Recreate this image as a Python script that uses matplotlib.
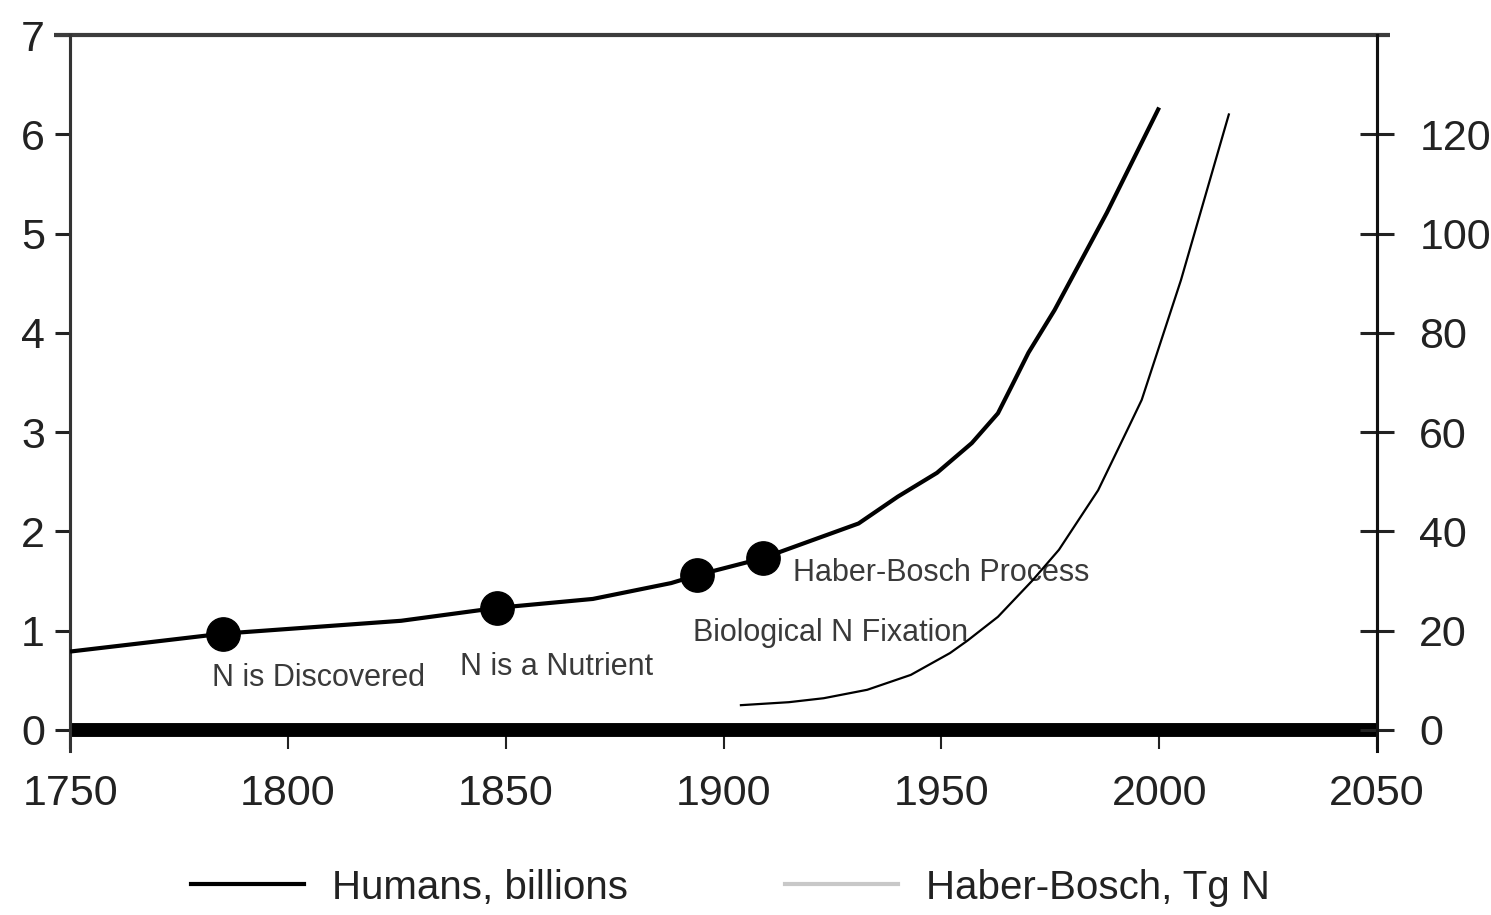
import numpy as np
import matplotlib.pyplot as plt
from matplotlib.lines import Line2D

plt.rcParams['font.family'] = ['Liberation Sans Narrow', 'Liberation Sans', 'DejaVu Sans']

# humans, billions (left axis)
hum_years = [1750, 1785, 1826, 1848, 1870, 1888, 1894, 1909, 1914, 1931, 1940,
             1949, 1957, 1963, 1966, 1970, 1976, 1988, 2000]
hum_vals = [0.79, 0.97, 1.10, 1.23, 1.32, 1.48, 1.56, 1.73, 1.81, 2.08, 2.35,
            2.59, 2.89, 3.19, 3.45, 3.80, 4.23, 5.21, 6.27]

# Haber-Bosch, Tg N (right axis)
hb_years = [1904, 1915, 1923, 1933, 1943, 1952, 1956, 1963, 1971, 1977, 1986,
            1993, 1996, 2005, 2016]
hb_vals = [5.0, 5.6, 6.4, 8.1, 11.1, 15.5, 18.0, 22.8, 30.2, 36.3, 48.3,
           61.0, 66.5, 90.6, 124.0]

# milestones
ev_years = [1785, 1848, 1894, 1909]
ev_vals = [0.97, 1.23, 1.56, 1.73]
ev_labels = ['N is Discovered', 'N is a Nutrient', 'Biological N Fixation',
             'Haber-Bosch Process']
ev_text_x = [1782.5, 1839.5, 1893, 1916]
ev_text_y = [0.52, 0.63, 0.98, 1.58]

fig = plt.figure(figsize=(14.91, 9.15), dpi=100)
ax = fig.add_axes([0.047, 0.2022, 0.8765, 0.7595])
ax2 = ax.twinx()

ax.plot(hum_years, hum_vals, color='black', lw=3, solid_capstyle='butt', zorder=3)
ax.plot(ev_years, ev_vals, 'o', color='black', ms=24, zorder=4)
for t, x, y in zip(ev_labels, ev_text_x, ev_text_y):
    ax.text(x, y, t, fontsize=22, color='#3a3a3a', va='center', ha='left', zorder=5)

ax2.plot(hb_years, hb_vals, color='black', lw=1.6, zorder=3)

ax.set_xlim(1750, 2050)
ax.set_ylim(0, 7)
ax2.set_ylim(0, 140)
ax.set_xticks([1750, 1800, 1850, 1900, 1950, 2000, 2050])
ax.set_yticks(range(0, 8))
ax2.set_yticks(range(0, 140, 20))
ax2.set_yticklabels([str(v) for v in range(0, 140, 20)])

# thick zero line
ax.axhline(0, color='black', lw=10, zorder=2, solid_capstyle='butt', clip_on=False)

for a in (ax, ax2):
    for s in a.spines.values():
        s.set_visible(False)
ax.spines['left'].set_visible(True)
ax.spines['left'].set_linewidth(2.2)
ax.spines['left'].set_color('#333333')
ax2.spines['right'].set_visible(True)
ax2.spines['right'].set_linewidth(2.2)
ax2.spines['right'].set_color('#111111')
# top frame line, running a bit past both sides
ax.plot([-0.012, 1.01], [1.0, 1.0], transform=ax.transAxes, color='#3c3c3c',
        lw=3, clip_on=False, solid_capstyle='butt')
# spines run a little below zero
ax.plot([0, 0], [-0.03, 1.0], transform=ax.transAxes, color='#333333',
        lw=2.2, clip_on=False)
ax2.plot([1, 1], [-0.03, 1.0], transform=ax2.transAxes, color='#111111',
         lw=2.2, clip_on=False)

ax.tick_params(axis='y', direction='out', length=11, width=2.2, labelsize=31,
               pad=7, colors='#222222')
ax.tick_params(axis='x', direction='out', length=14, width=1.5, labelsize=31,
               pad=18, colors='#222222')
ax2.tick_params(axis='y', direction='inout', length=25, width=2.2, labelsize=31,
                pad=18, colors='#222222')

handles = [Line2D([], [], color='black', lw=3),
           Line2D([], [], color='#c8c8c8', lw=3)]
fig.legend(handles, ['Humans, billions', 'Haber-Bosch, Tg N'], loc='center',
           bbox_to_anchor=(0.49, 0.03), ncol=2, frameon=False, fontsize=29,
           handlelength=2.8, handletextpad=0.7, columnspacing=3.9,
           labelcolor='#222222')

fig.savefig('out.png', dpi=100)
